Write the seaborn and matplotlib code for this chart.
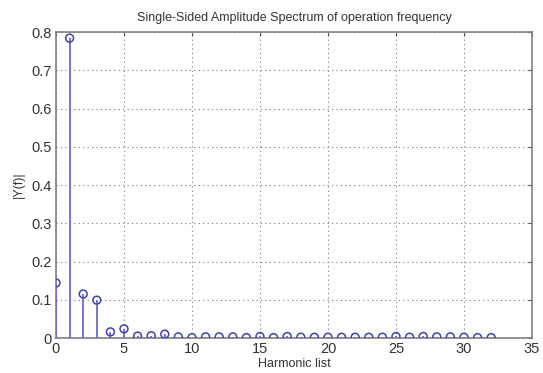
import matplotlib
matplotlib.use("Agg")
import matplotlib.pyplot as plt
import seaborn as sns
import numpy as np
import pandas as pd

harmonics = list(range(33))
amplitude = [0.144, 0.784, 0.115, 0.099, 0.016, 0.024, 0.005, 0.006, 0.010, 0.003,
             0.001, 0.003, 0.003, 0.003, 0.001, 0.004, 0.001, 0.004, 0.002, 0.002,
             0.002, 0.002, 0.002, 0.002, 0.002, 0.004, 0.002, 0.004, 0.003, 0.003,
             0.002, 0.001, 0.001]
xticks = [0, 5, 10, 15, 20, 25, 30, 35]
yticks = [0, 0.1, 0.2, 0.3, 0.4, 0.5, 0.6, 0.7, 0.8]

sns.set_style("whitegrid")
plt.rcParams['font.family'] = ['Liberation Sans', 'DejaVu Sans']

df = pd.DataFrame({"h": harmonics, "a": amplitude})
stem_color = "#6a6ad2"
mark_color = "#4040b4"

fig = plt.figure(figsize=(5.43, 3.73), dpi=100)
ax = fig.add_axes([0.1031, 0.0938, 0.8766, 0.8204])
ax.vlines(df["h"], 0, df["a"], color=stem_color, linewidth=1.3, zorder=3)
sns.scatterplot(data=df, x="h", y="a", ax=ax, marker="o", s=32,
                facecolor="none", edgecolor=mark_color, linewidth=1.1, zorder=4, legend=False)
ax.set_xlim(0, 35)
ax.set_ylim(0, 0.8)
ax.set_xticks(xticks)
ax.set_xticklabels([str(t) for t in xticks])
ax.set_yticks(yticks)
ax.set_yticklabels(["0"] + [f"{t:.1f}" for t in yticks[1:]])
ax.grid(True, color="#777777", linestyle=(0, (1, 3)), linewidth=0.8)
for s in ax.spines.values():
    s.set_visible(True)
    s.set_color("#808080")
    s.set_linewidth(1.2)
ax.tick_params(axis="both", labelsize=10.5, colors="#555555", length=3, direction="in",
               top=True, right=True, pad=3)
ax.tick_params(axis="both", which="both", labelcolor="#333333")
ax.set_xlabel("Harmonic list", fontsize=9, color="#333333", labelpad=1)
ax.set_ylabel("|Y(f)|", fontsize=9, color="#333333", labelpad=5)
ax.set_title("Single-Sided Amplitude Spectrum of operation frequency", fontsize=9,
             color="#333333", pad=8)
fig.savefig("out.png", dpi=100)
